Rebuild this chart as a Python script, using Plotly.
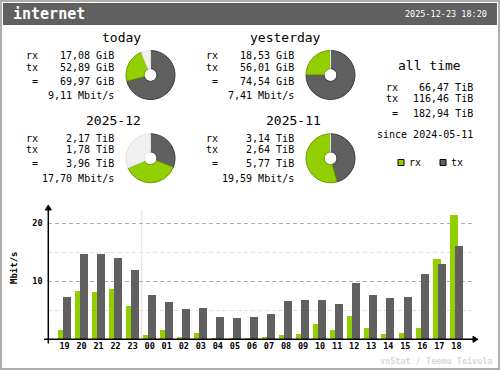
import plotly.graph_objects as go

W, H = 500, 370
MONO = "DejaVu Sans Mono"

# ---------------- data ----------------
iface_name = "internet"
timestamp = "2025-12-23 18:20"

hours = ["19", "20", "21", "22", "23", "00", "01", "02", "03", "04", "05", "06",
         "07", "08", "09", "10", "11", "12", "13", "14", "15", "16", "17", "18"]
rx_rate = [1.56, 8.30, 8.13, 8.65, 5.71, 0.69, 1.56, 0.35, 1.04, 0.17, 0.17, 0.17,
           0.35, 0.69, 0.86, 2.59, 1.56, 3.98, 1.90, 0.86, 1.04, 1.90, 13.83, 21.44]
tx_rate = [7.26, 14.70, 14.70, 14.00, 11.93, 7.61, 6.40, 5.19, 5.36, 3.80, 3.63, 3.80,
           4.32, 6.57, 6.74, 6.74, 6.05, 9.68, 7.61, 7.09, 7.26, 11.24, 12.97, 16.08]

periods = ["today", "yesterday", "2025-12", "2025-11"]
period_rx = [17.08, 18.53, 2.17, 3.14]
period_tx = [52.89, 56.01, 1.78, 2.64]
period_total = [69.97, 74.54, 3.96, 5.77]
period_unit = ["GiB", "GiB", "TiB", "TiB"]
period_rate = [9.11, 7.41, 17.70, 19.59]

alltime_rx = 66.47
alltime_tx = 116.46
alltime_total = 182.94
alltime_unit = "TiB"
since_date = "2024-05-11"

y_ticks = [10, 20]
y_minor = [5, 15]

RX_COL = "#92CF00"
TX_COL = "#606060"
RX_EDGE = "#6B9A00"
TX_EDGE = "#3A3A3A"
REST_COL = "#F0F0F0"
REST_EDGE = "#E0E0E0"


def fmt(v, unit):
    return f"{v:.2f}".replace(".", ",") + " " + unit


def px(x):
    return x / W


def py(y):
    return 1 - y / H


fig = go.Figure()
annotations = []
shapes = []


def text(x, y, s, size=10, anchor="left", color="black", weight="normal", family=MONO, angle=0):
    annotations.append(dict(
        x=px(x), y=py(y), xref="paper", yref="paper", text=s, showarrow=False,
        xanchor=anchor, yanchor="middle", textangle=angle,
        font=dict(family=family, size=size, color=color, weight=weight),
        borderpad=0,
    ))


# frame + header
shapes.append(dict(type="rect", xref="paper", yref="paper", x0=px(1), x1=px(499), y0=py(369), y1=py(1),
                   line=dict(color="#AEAEAE", width=2), fillcolor="rgba(0,0,0,0)", layer="above"))
shapes.append(dict(type="rect", xref="paper", yref="paper", x0=px(3), x1=px(497), y0=py(25), y1=py(3),
                   line=dict(width=0), fillcolor="#606060", layer="below"))
text(12, 14, iface_name, size=15, color="white", weight="bold")
text(488, 14, timestamp, size=8.5, anchor="right", color="white")

# ---------------- period blocks with donuts ----------------
col_dx = [0, 180]
row_ty = [37.7, 120.0]
pie_cy = [75.0, 158.3]
R = 24.5

for i, name in enumerate(periods):
    c, r = i % 2, i // 2
    dx, ty = col_dx[c], row_ty[r]
    text(142 + dx, ty, name, size=13, anchor="right")
    text(25 + dx, ty + 18, "rx")
    text(115 + dx, ty + 18, fmt(period_rx[i], period_unit[i]), anchor="right")
    text(25 + dx, ty + 29.5, "tx")
    text(115 + dx, ty + 29.5, fmt(period_tx[i], period_unit[i]), anchor="right")
    text(31 + dx, ty + 43.3, "=")
    text(115 + dx, ty + 43.3, fmt(period_total[i], period_unit[i]), anchor="right")
    text(115 + dx, ty + 58, fmt(period_rate[i], "Mbit/s"), anchor="right")

    pair_max = max(period_total[2 * r], period_total[2 * r + 1])
    rest = max(pair_max - period_total[i], 0)
    cx, cy = 150.5 + dx, pie_cy[r]
    fig.add_trace(go.Pie(
        values=[period_tx[i], period_rx[i], rest],
        labels=["tx", "rx", "rest"],
        sort=False, direction="clockwise", rotation=0, hole=0.26,
        marker=dict(colors=[TX_COL, RX_COL, REST_COL],
                    line=dict(color=[TX_EDGE, RX_EDGE, REST_EDGE], width=1)),
        textinfo="none", hoverinfo="skip", showlegend=False,
        domain=dict(x=[px(cx - R), px(cx + R)], y=[py(cy + R), py(cy - R)]),
    ))

# all time block
text(429, 65.7, "all time", size=13, anchor="center")
text(385, 87.7, "rx")
text(474, 87.7, fmt(alltime_rx, alltime_unit), anchor="right")
text(385, 99, "tx")
text(474, 99, fmt(alltime_tx, alltime_unit), anchor="right")
text(391, 114, "=")
text(474, 114, fmt(alltime_total, alltime_unit), anchor="right")
text(474, 134.3, "since " + since_date, anchor="right")

# legend squares
for (x0, col, edge, lab) in [(398, RX_COL, RX_EDGE, "rx"), (440, TX_COL, TX_EDGE, "tx")]:
    shapes.append(dict(type="rect", xref="paper", yref="paper", x0=px(x0), x1=px(x0 + 6),
                       y0=py(165.5), y1=py(159.5), fillcolor=col, line=dict(color="#000000", width=1)))
    text(x0 + 10, 162.5, lab)

# ---------------- hourly bar chart ----------------
step = 17.04
x_left, x_right = 48.3, 473
first_center = 64.5
idx = list(range(len(hours)))
x_range = [(x_left - first_center) / step, (x_right - first_center) / step]
y_bottom, y_top = 339.3, 206.0
y_max = 23.0
bar_w = 8 / step

fig.add_trace(go.Bar(x=idx, y=rx_rate, width=bar_w, offset=-6.5 / step,
                     marker=dict(color=RX_COL, line=dict(width=0)), hoverinfo="skip",
                     showlegend=False, xaxis="x", yaxis="y"))
fig.add_trace(go.Bar(x=idx, y=tx_rate, width=bar_w, offset=-1.5 / step,
                     marker=dict(color=TX_COL, line=dict(width=0)), hoverinfo="skip",
                     showlegend=False, xaxis="x", yaxis="y"))

# day separator between 23 and 00
sep = hours.index("00") - 0.47
shapes.append(dict(type="line", xref="x", yref="y", x0=sep, x1=sep, y0=0, y1=22.3,
                   line=dict(color="#E0E0E0", width=1), layer="below"))

# axes lines with arrows
shapes.append(dict(type="line", xref="paper", yref="paper", x0=px(44), x1=px(476), y0=py(y_bottom), y1=py(y_bottom),
                   line=dict(color="black", width=1.5), layer="above"))
shapes.append(dict(type="line", xref="paper", yref="paper", x0=px(x_left), x1=px(x_left), y0=py(343.5), y1=py(207),
                   line=dict(color="black", width=1.5), layer="above"))
shapes.append(dict(type="path", xref="paper", yref="paper",
                   path=f"M {px(x_left-3)},{py(210)} L {px(x_left+3)},{py(210)} L {px(x_left)},{py(205)} Z",
                   fillcolor="black", line=dict(color="black", width=1), layer="above"))
shapes.append(dict(type="path", xref="paper", yref="paper",
                   path=f"M {px(473)},{py(y_bottom-3)} L {px(473)},{py(y_bottom+3)} L {px(478)},{py(y_bottom)} Z",
                   fillcolor="black", line=dict(color="black", width=1), layer="above"))

text(14, 268, "Mbit/s", size=9, anchor="center", weight="bold", angle=-90)
text(494, 361, "vnStat / Teemu Toivola", size=8.5, anchor="right", color="#D8D8D8", weight="bold")

fig.update_layout(
    width=W, height=H, margin=dict(l=0, r=0, t=0, b=0),
    paper_bgcolor="white", plot_bgcolor="rgba(0,0,0,0)",
    barmode="overlay", bargap=0,
    xaxis=dict(domain=[px(x_left), px(x_right)], range=x_range, tickvals=idx, ticktext=hours,
               showgrid=False, zeroline=False, showline=False, ticks="",
               tickfont=dict(family=MONO, size=8.5, color="black", weight="bold"), anchor="y", fixedrange=True),
    yaxis=dict(domain=[py(y_bottom), py(y_top)], range=[0, y_max], tickvals=y_ticks,
               showgrid=True, gridcolor="#B0B0B0", griddash="4px,3px", gridwidth=1,
               minor=dict(tickvals=y_minor, showgrid=True, gridcolor="#E0E0E0", griddash="4px,3px", gridwidth=1),
               zeroline=False, showline=False, ticks="outside", ticklen=3, tickcolor="rgba(0,0,0,0)",
               tickfont=dict(family=MONO, size=8.5, color="black", weight="bold"), anchor="x", fixedrange=True),
    annotations=annotations, shapes=shapes,
)

fig.write_html("out.html", config={"displayModeBar": False},
               post_script="document.body.style.margin='0';document.body.style.overflow='hidden';")
